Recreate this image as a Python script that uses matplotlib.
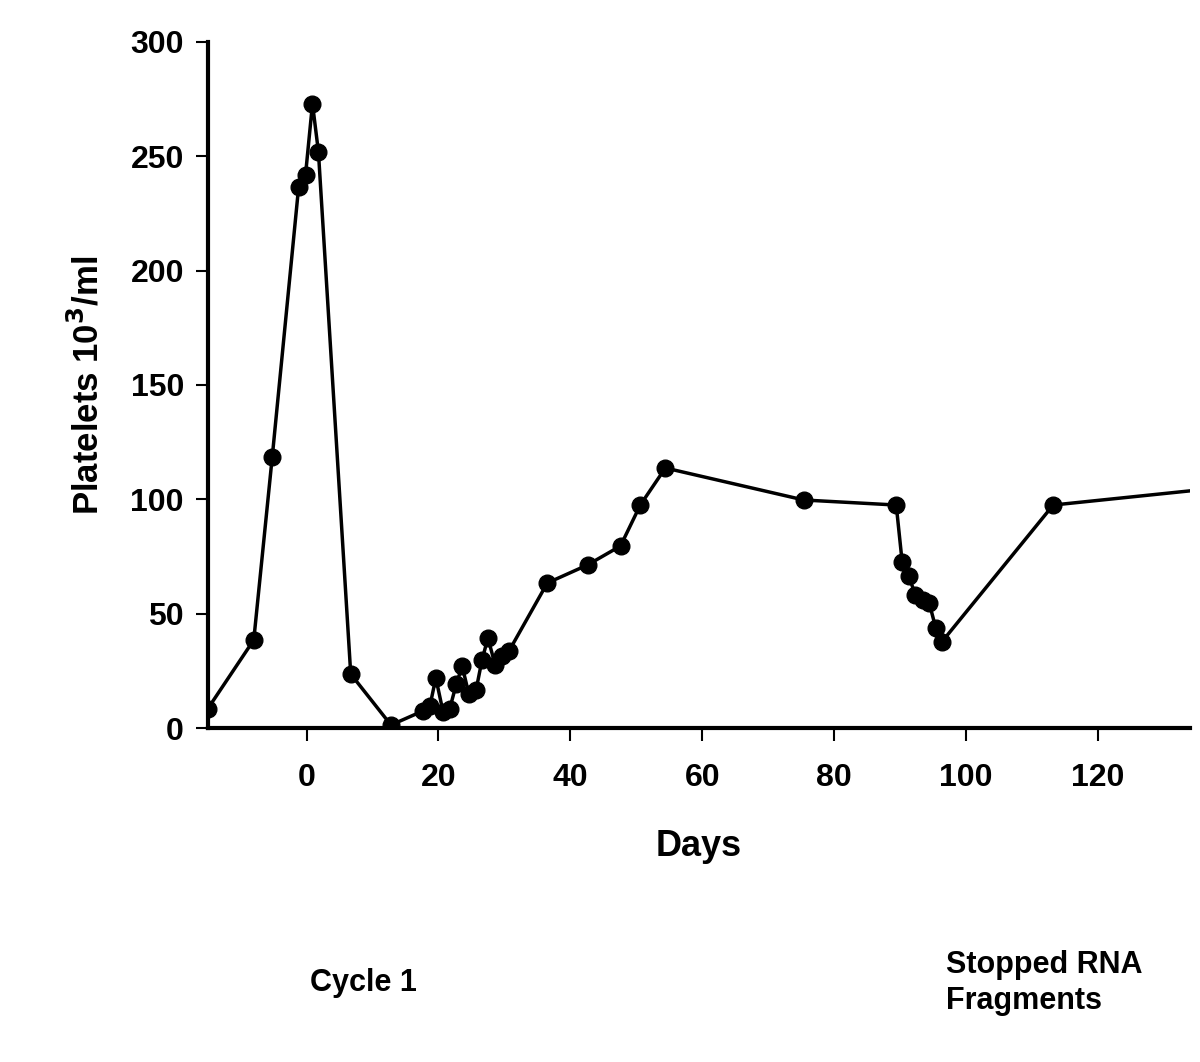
import numpy as np
from matplotlib import pyplot as plt

# ---- data ------------------------------------------------------------------
days = [-15, -8, -5.2, -1.2, -0.15, 0.9, 1.8, 6.7, 12.8, 17.6, 18.7, 19.6,
        20.7, 21.7, 22.7, 23.6, 24.6, 25.7, 26.6, 27.5, 28.6, 29.7, 30.7,
        36.5, 42.6, 47.6, 50.6, 54.4, 75.4, 89.4, 90.3, 91.3, 92.3, 93.4,
        94.4, 95.4, 96.3, 113.2, 150]
platelets = [8.3, 38.5, 118.5, 236.5, 242, 273, 252, 23.6, 1.3, 7.4, 9.6,
             21.9, 7, 8.3, 19.2, 27, 14.9, 16.6, 29.7, 39.4, 27.5, 31.5,
             33.7, 63.4, 71.3, 79.6, 97.5, 113.7, 99.7, 97.5, 72.6, 66.5,
             58.2, 56, 54.7, 43.7, 37.6, 97.5, 108.5]
x_ticks = [0, 20, 40, 60, 80, 100, 120]
y_ticks = [0, 50, 100, 150, 200, 250, 300]

plt.rcParams['font.family'] = ['Liberation Sans', 'DejaVu Sans']
plt.rcParams['font.weight'] = 'bold'

fig = plt.figure(figsize=(12, 10.62), dpi=100)
ax = fig.add_axes([0.173, 0.3145, 0.819, 0.646])

ax.plot(days, platelets, color='black', linewidth=2.5, marker='o',
        markersize=12, markerfacecolor='black', markeredgecolor='black')

ax.set_xlim(-15, 134)
ax.set_ylim(0, 300)
ax.set_xticks(x_ticks)
ax.set_yticks(y_ticks)

for s in ['top', 'right']:
    ax.spines[s].set_visible(False)
for s in ['left', 'bottom']:
    ax.spines[s].set_linewidth(3)

ax.tick_params(axis='both', direction='out', length=9, width=1.5,
               labelsize=23)
ax.tick_params(axis='y', pad=8)
ax.tick_params(axis='x', pad=16)
for lab in ax.get_xticklabels() + ax.get_yticklabels():
    lab.set_fontweight('bold')

ax.set_xlabel("Days", fontsize=26, fontweight='bold', labelpad=26)
ax.set_ylabel("Platelets 10$^{\\mathbf{3}}$/ml", fontsize=25,
              fontweight='bold', labelpad=18)

fig.text(363 / 1200, 1 - 983 / 1062, "Cycle 1", fontsize=22,
         fontweight='bold', ha='center', va='center')
fig.text(946 / 1200, 1 - 983 / 1062, "Stopped RNA\nFragments", fontsize=22,
         fontweight='bold', ha='left', va='center', linespacing=1.25)

fig.savefig("out.png", dpi=100)
